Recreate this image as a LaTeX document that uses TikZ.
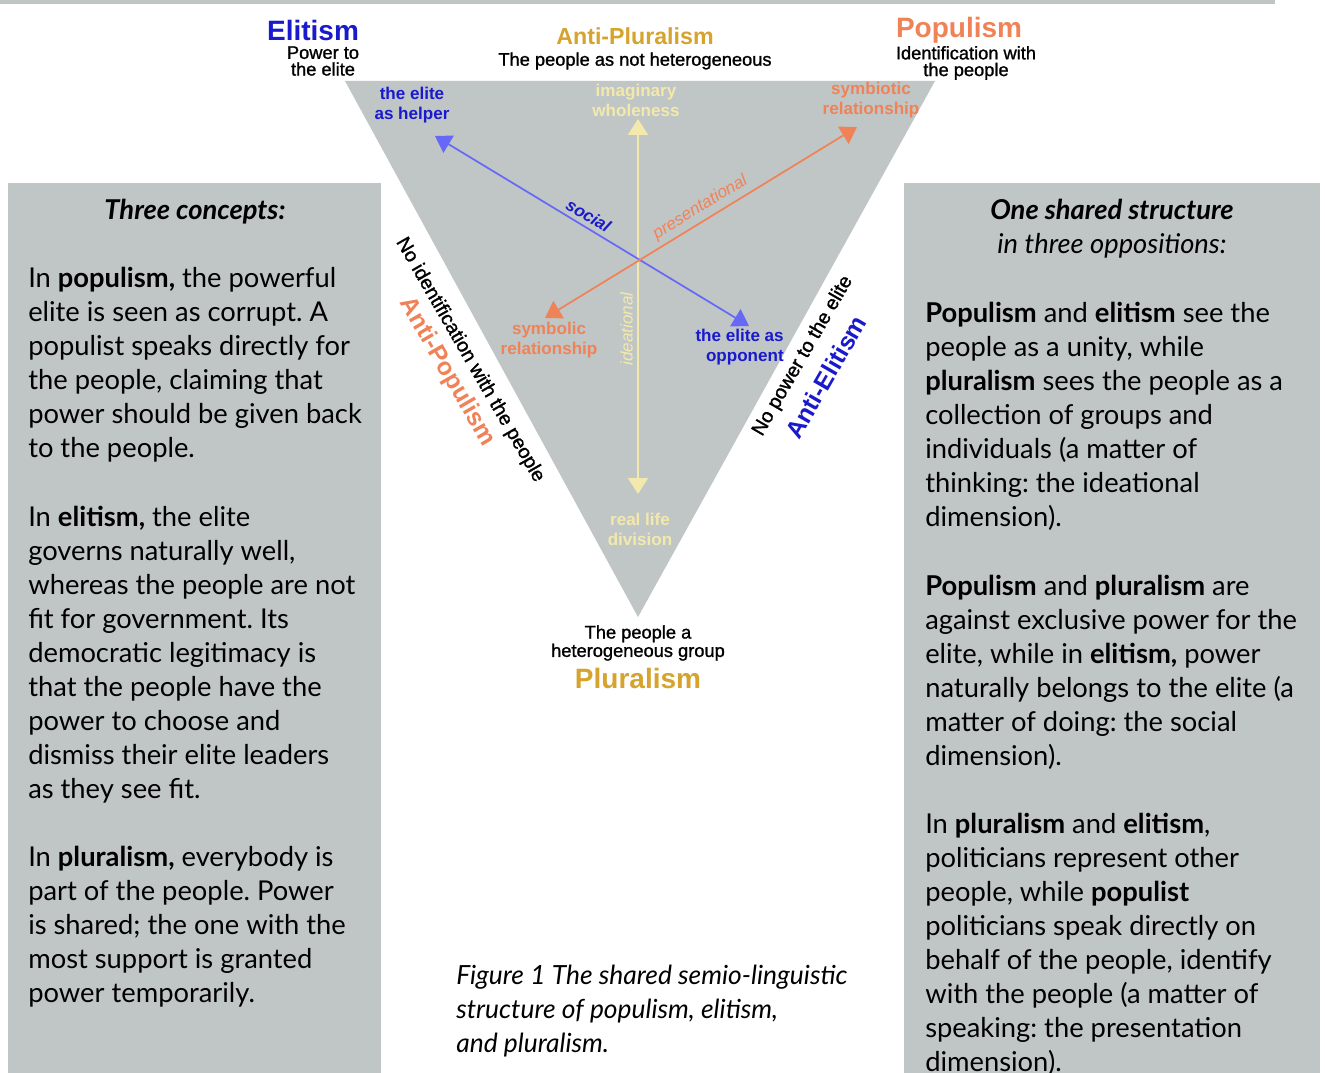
\documentclass[tikz,border=0pt]{standalone}
\usepackage{fontspec}
\setmainfont{Liberation Sans}
\newfontfamily\gillfont{Lato}
\newfontfamily\medfont[FakeBold=1.2]{Liberation Sans}
\usetikzlibrary{arrows.meta,positioning}
\frenchspacing

\definecolor{panelgray}{RGB}{192,198,197}
\definecolor{elitblue}{RGB}{26,26,205}
\definecolor{arrowblue}{RGB}{104,104,246}
\definecolor{popor}{RGB}{240,130,88}
\definecolor{plurgold}{RGB}{214,164,45}
\definecolor{paleyel}{RGB}{243,233,172}

\begin{document}
\begin{tikzpicture}[x=0.75pt,y=-0.75pt,
    pole/.style={font=\bfseries\fontsize{21}{22}\selectfont},
    sub/.style={font=\medfont\fontsize{13.7}{12.5}\selectfont, align=center, inner sep=0pt},
    tag/.style={font=\bfseries\fontsize{12.8}{15}\selectfont, align=center, inner sep=0pt},
    dim/.style={font=\itshape\fontsize{12.8}{15}\selectfont},
    side/.style={font=\medfont\fontsize{14.8}{16}\selectfont, inner sep=0pt},
    anti/.style={font=\bfseries\fontsize{18.5}{20}\selectfont, inner sep=0pt},
    dblarrow/.style={{Triangle[length=12pt,width=15pt]}-{Triangle[length=12pt,width=15pt]}, line width=1.3pt},
    panel/.style={fill=panelgray},
    boxtitle/.style={font=\gillfont\bfseries\itshape\fontsize{20.5}{25.5}\selectfont, align=center, inner sep=0pt},
    boxtext/.style={font=\gillfont\fontsize{20.5}{25.5}\selectfont, align=left, anchor=west, inner sep=0pt},
]
    % page and panels
    \fill[white] (0,0) rectangle (1325,1073);
    \useasboundingbox (0,0) rectangle (1325,1073);
    \fill[panel] (0,0) rectangle (1275,4);
    \fill[panel] (8,183) rectangle (381,1073);
    \fill[panel] (904,183) rectangle (1320,1073);
    \fill[panel] (345,81) -- (935,81) -- (638,617) -- cycle;

    % poles
    \node[pole, text=elitblue] (elitism) at (313,30) {Elitism};
    \node[sub] (elitismsub) at (323,61) {Power to\\the elite};
    \node[pole, text=plurgold, font=\bfseries\fontsize{17.4}{18}\selectfont] (antiplur) at (635,36) {Anti-Pluralism};
    \node[sub] (antiplursub) at (635,61) {The people as not heterogeneous};
    \node[pole, text=popor] (populism) at (959,30) {Populism};
    \node[sub] (populismsub) at (966,63) {Identification with\\the people};
    \node[sub] (pluralismsub) at (638,643) {The people a\\heterogeneous group};
    \node[pole, text=plurgold] (pluralism) at (638,678) {Pluralism};

    % arrow ends
    \coordinate (helper) at (435,136);
    \coordinate (opponent) at (749,326);
    \coordinate (symbiotic) at (857,127);
    \coordinate (symbolic) at (545,318);
    \coordinate (wholeness) at (638,119);
    \coordinate (division) at (638,494);

    % dimensions
    \draw[dblarrow, paleyel] (wholeness) -- (division)
        node[dim, pos=0.56, rotate=90, above] (ideational) {ideational};
    \draw[dblarrow, arrowblue] (helper) -- (opponent)
        node[dim, font=\bfseries\itshape\fontsize{12.8}{15}\selectfont, text=elitblue, pos=0.47, sloped, above] (social) {social};
    \draw[dblarrow, popor] (symbolic) -- (symbiotic)
        node[dim, text=popor, pos=0.52, sloped, above] (presentational) {presentational};

    % arrow labels
    \node[tag, text=elitblue] (helperlbl) at (412,105) {the elite\\as helper};
    \node[tag, text=paleyel] (wholelbl) at (636,100) {imaginary\\wholeness};
    \node[tag, text=popor] (symbiolbl) at (871,100) {symbiotic\\relationship};
    \node[tag, text=popor] (symbollbl) at (549,340) {symbolic\\relationship};
    \node[tag, text=elitblue, align=right, anchor=east] (opplbl) at (784,347) {the elite as\\opponent};
    \node[tag, text=paleyel] (divlbl) at (640,529) {real life\\division};

    % sides
    \node[side, rotate=-60] (noident) at (470,360) {No identification with the people};
    \node[anti, text=popor, rotate=-60] (antipop) at (447,372) {Anti-Populism};
    \node[side, rotate=60] (nopower) at (803,356) {No power to the elite};
    \node[anti, text=elitblue, rotate=60] (antielit) at (826,377) {Anti-Elitism};

    % left panel
    \node[boxtitle] (concepts) at (195,212) {Three concepts:};
    \node[boxtext] (popdef) at (28,365) {In \textbf{populism,} the powerful\\
        elite is seen as corrupt. A\\
        populist speaks directly for\\
        the people, claiming that\\
        power should be given back\\
        to the people.};
    \node[boxtext] (elitdef) at (28,655) {In \textbf{elitism,} the elite\\
        governs naturally well,\\
        whereas the people are not\\
        fit for government. Its\\
        democratic legitimacy is\\
        that the people have the\\
        power to choose and\\
        dismiss their elite leaders\\
        as they see fit.};
    \node[boxtext] (plurdef) at (28,927) {In \textbf{pluralism,} everybody is\\
        part of the people. Power\\
        is shared; the one with the\\
        most support is granted\\
        power temporarily.};

    % right panel
    \node[boxtitle] (structure) at (1112,229) {One shared structure\\
        \mdseries in three oppositions:};
    \node[boxtext] (ideal) at (925,416) {\textbf{Populism} and \textbf{elitism} see the\\
        people as a unity, while\\
        \textbf{pluralism} sees the people as a\\
        collection of groups and\\
        individuals (a matter of\\
        thinking: the ideational\\
        dimension).};
    \node[boxtext] (soc) at (925,672) {\textbf{Populism} and \textbf{pluralism} are\\
        against exclusive power for the\\
        elite, while in \textbf{elitism,} power\\
        naturally belongs to the elite (a\\
        matter of doing: the social\\
        dimension).};
    \node[boxtext] (pres) at (925,944) {In \textbf{pluralism} and \textbf{elitism},\\
        politicians represent other\\
        people, while \textbf{populist}\\
        politicians speak directly on\\
        behalf of the people, identify\\
        with the people (a matter of\\
        speaking: the presentation\\
        dimension).};

    % caption
    \node[boxtext, font=\gillfont\itshape\fontsize{19.8}{25.8}\selectfont] (caption) at (456,1011) {Figure 1 The shared semio-linguistic\\
        structure of populism, elitism,\\
        and pluralism.};
\end{tikzpicture}
\end{document}
